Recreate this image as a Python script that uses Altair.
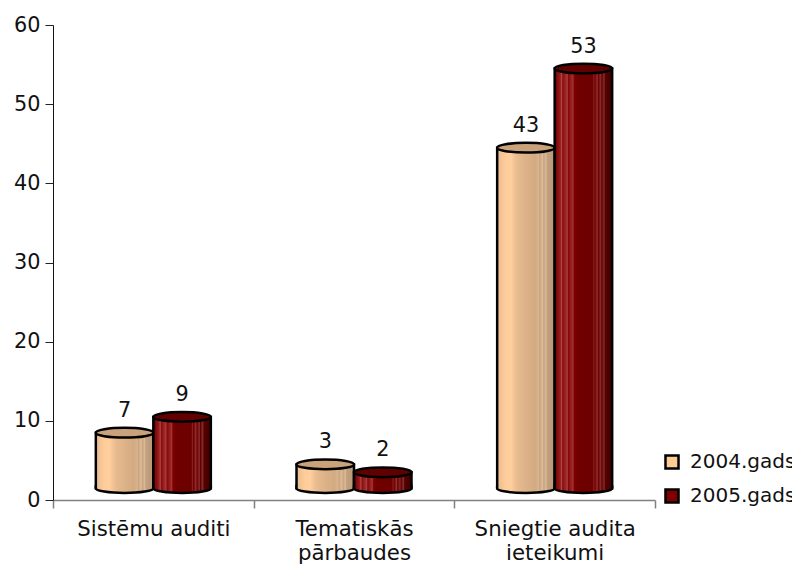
import altair as alt
import pandas as pd

categories = ["Sistēmu auditi", "Tematiskās|pārbaudes", "Sniegtie audita|ieteikumi"]
series = ["2004.gads", "2005.gads"]
values_2004 = [7, 3, 43]
values_2005 = [9, 2, 53]
floor_level = 1.5
legend_colors = ["#FFCC99", "#800000"]
top_colors = ["#C9A27C", "#600000"]
tan_stops = [(0, "#E8BE94"), (0.08, "#F4C596"), (0.14, "#FFCC99"), (0.24, "#FFCF9F"), (0.3, "#F2C294"),
             (0.36, "#E6BB8F"), (0.5, "#DDB288"), (0.66, "#D2AA82"), (0.72, "#D8B48E"), (0.74, "#CCA47E"),
             (0.79, "#DDBD9B"), (0.81, "#C9A27C"), (0.85, "#D8BC9C"), (0.87, "#C4A07C"), (1, "#B8977A")]
red_stops = [(0, "#6A0000"), (0.06, "#8A1010"), (0.1, "#9A2020"), (0.12, "#B04848"), (0.14, "#8C0C0C"),
             (0.2, "#A02C2C"), (0.22, "#A83C3C"), (0.24, "#860808"), (0.3, "#9A2828"), (0.32, "#A03434"),
             (0.34, "#800000"), (0.4, "#700000"), (0.66, "#6C0000"), (0.68, "#8C2020"), (0.7, "#6C0000"),
             (0.74, "#943030"), (0.76, "#6A0000"), (0.8, "#8C2C2C"), (0.82, "#640000"), (0.86, "#803030"),
             (0.88, "#5A0000"), (1, "#3C0000")]

FONT = "DejaVu Sans"
ELLIPSE_TOP = "M-1,0 A1,0.17 0 1 0 1,0 A1,0.17 0 1 0 -1,0 Z"
ELLIPSE_BOTTOM = "M-1,-0.08 L-1,0 A1,0.17 0 0 0 1,0 L1,-0.08"
BAR_W = 57.5


def grad(stops):
    return alt.Gradient(
        gradient="linear", x1=0, y1=0, x2=1, y2=0,
        stops=[alt.GradientStop(offset=o, color=c) for o, c in stops],
    )


rows = []
for c, a, b in zip(categories, values_2004, values_2005):
    rows.append(dict(cat=c, year=series[0], v=a, top=a + floor_level, base=floor_level))
    rows.append(dict(cat=c, year=series[1], v=b, top=b + floor_level, base=floor_level))
df = pd.DataFrame(rows)

x_enc = alt.X(
    "cat:N", sort=categories, title=None,
    scale=alt.Scale(type="band", paddingInner=0, paddingOuter=0),
    axis=alt.Axis(
        labelAngle=0, tickBand="extent", tickSize=8, tickColor="#808080", tickWidth=1.5,
        domainColor="#808080", domainWidth=1.5, labelFont=FONT, labelFontSize=21.3,
        labelColor="#111111", labelPadding=10, labelLineHeight=24, labelBaseline="top",
        labelExpr="split(datum.label, '|')",
    ),
)
xo_enc = alt.XOffset(
    "year:N", sort=series,
    scale=alt.Scale(type="band", paddingInner=0, paddingOuter=0.745),
)
y_axis = alt.Axis(
    values=[0, 10, 20, 30, 40, 50, 60], tickSize=8, tickColor="#222222", tickWidth=1,
    domainColor="#111111", domainWidth=1, labelFont=FONT, labelFontSize=20.8,
    labelColor="#111111", labelPadding=5, grid=False, title=None,
)
y_scale = alt.Scale(domain=[0, 60], nice=False)
y_top = alt.Y("top:Q", title=None, scale=y_scale, axis=y_axis)
y_base = alt.Y("base:Q", title=None, scale=y_scale, axis=y_axis)

base = alt.Chart(df)
legend_layer = base.mark_bar(stroke=None).encode(
    x=x_enc, xOffset=xo_enc, y=y_top, y2="base:Q",
    fill=alt.Fill(
        "year:N", sort=series, title=None,
        scale=alt.Scale(domain=series, range=legend_colors),
        legend=alt.Legend(
            orient="none", legendX=609, legendY=427, symbolType="square", symbolSize=170,
            symbolStrokeColor="black", symbolStrokeWidth=2.5, labelFont=FONT, labelFontSize=20,
            labelColor="#111111", labelOffset=8, rowPadding=10, labelLimit=200,
        ),
    ),
)

layers = [legend_layer]
for year, stops, top_color in zip(series, [tan_stops, red_stops], top_colors):
    d = base.transform_filter(alt.datum.year == year)
    enc = dict(x=x_enc, xOffset=xo_enc)
    layers.append(
        d.mark_bar(fill=grad(stops), stroke="black", strokeWidth=2.5).encode(y=y_top, y2="base:Q", **enc)
    )
    layers.append(
        d.mark_point(shape=ELLIPSE_BOTTOM, size=BAR_W ** 2, filled=True, fill=grad(stops), opacity=1,
                     stroke="black", strokeWidth=2.5, strokeCap="round")
        .encode(y=y_base, **enc)
    )
    layers.append(
        d.mark_point(shape=ELLIPSE_TOP, size=BAR_W ** 2, filled=True, fill=top_color, opacity=1,
                     stroke="black", strokeWidth=2.5)
        .encode(y=y_top, **enc)
    )

labels = base.mark_text(font=FONT, fontSize=20.8, color="#111111", dy=-22).encode(
    x=x_enc, xOffset=xo_enc, y=y_top, text="v:Q"
)

chart = (
    alt.layer(*layers, labels)
    .properties(
        width=602, height=475, background="white",
        autosize=alt.AutoSizeParams(type="none"),
        padding={"left": 45, "top": 17, "right": 137, "bottom": 66},
    )
    .configure_view(stroke=None)
)
chart.save("out.html", embed_options={"renderer": "svg", "actions": False})
